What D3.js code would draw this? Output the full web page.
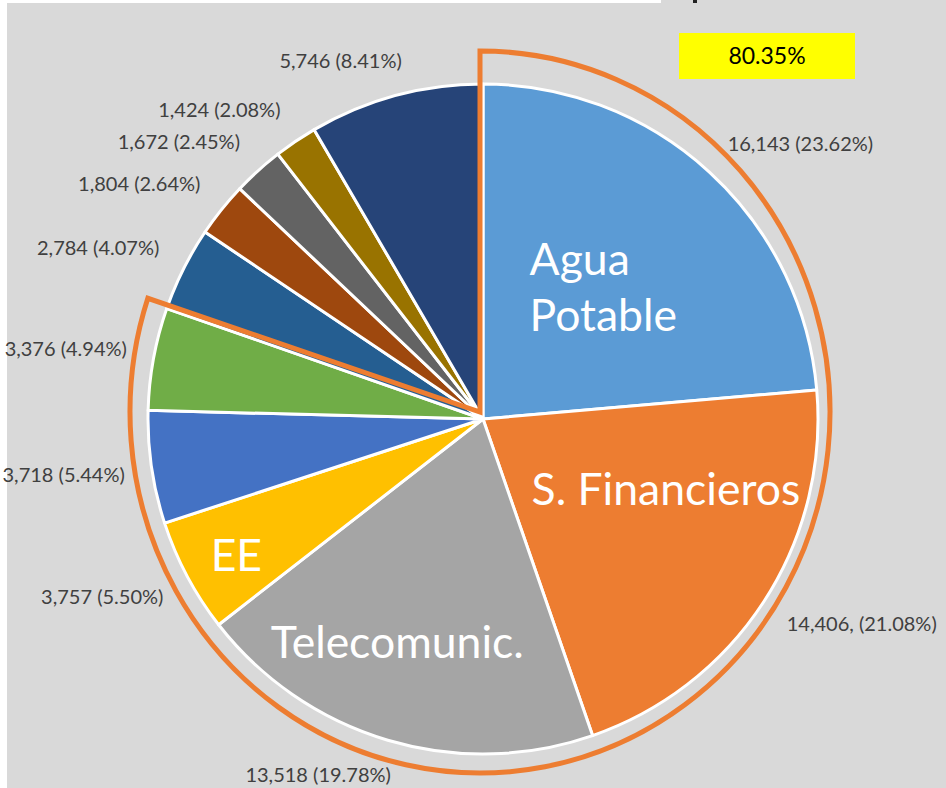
<!DOCTYPE html>
<html>
<head>
<meta charset="utf-8">
<script src="https://cdn.jsdelivr.net/npm/d3@7"></script>
<style>
  body { margin: 0; background: #fff; }
  svg { display: block; font-family: Lato, "Open Sans", sans-serif; }
</style>
</head>
<body>
<svg id="chart"></svg>
<script>
// data, clockwise from 12 o'clock
var categories = ["Agua Potable", "S. Financieros", "Telecomunic.", "EE", "Sector 5", "Sector 6",
                  "Sector 7", "Sector 8", "Sector 9", "Sector 10", "Otros"];
var values = [16143, 14406, 13518, 3757, 3718, 3376, 2784, 1804, 1672, 1424, 5746];
var colors = ["#5b9bd5", "#ed7d31", "#a5a5a5", "#ffc000", "#4472c4", "#70ad47",
              "#255e91", "#9e480e", "#636363", "#997300", "#264478"];
var sliceTitles = [["Agua", "Potable"], ["S. Financieros"], ["Telecomunic."], ["EE"], [], [], [], [], [], [], []];
var dataLabels = ["16,143 (23.62%)", "14,406, (21.08%)", "13,518 (19.78%)", "3,757 (5.50%)",
                  "3,718 (5.44%)", "3,376 (4.94%)", "2,784 (4.07%)", "1,804 (2.64%)",
                  "1,672 (2.45%)", "1,424 (2.08%)", "5,746 (8.41%)"];
var paretoCount = 6;   // first slices grouped by the orange outline

var width = 946, height = 788;
var cx = 483, cy = 419, radius = 335;
var labelR = 362;

// where the big in-slice titles sit (angle shift in degrees, radius)
var titleLayout = {
  "Agua Potable":   {da: 0,     r: 178},
  "S. Financieros": {da: -11.9, r: 196},
  "Telecomunic.":   {da: 4.5,   r: 239},
  "EE":             {da: -1,    r: 282}
};

var svg = d3.select("#chart").attr("width", width).attr("height", height);

// background like the pasted Excel picture
svg.append("rect").attr("x", 7).attr("y", 0).attr("width", width - 7).attr("height", height).attr("fill", "#d9d9d9");
svg.append("rect").attr("x", 0).attr("y", 0).attr("width", 661).attr("height", 3).attr("fill", "#fff");
svg.append("rect").attr("x", 693).attr("y", 0).attr("width", 4).attr("height", 3).attr("fill", "#222");

var pie = d3.pie().sort(null).value(function(d) { return d; });
var arcs = pie(values);
var arc = d3.arc().innerRadius(0).outerRadius(radius);

var pieG = svg.append("g").attr("transform", "translate(" + cx + "," + cy + ")");

pieG.selectAll("path.slice")
  .data(arcs)
  .enter()
  .append("path")
    .attr("class", "slice")
    .attr("d", arc)
    .attr("fill", function(d, i) { return colors[i]; })
    .attr("stroke", "#fff")
    .attr("stroke-width", 3)
    .attr("stroke-linejoin", "round");

// outside value labels
function clamp(v) { return Math.max(-1, Math.min(1, v)); }
var labelG = pieG.append("g");
arcs.forEach(function(d, i) {
  var a = (d.startAngle + d.endAngle) / 2;
  var dx = Math.sin(a), dy = -Math.cos(a);
  var t = labelG.append("text")
    .text(dataLabels[i])
    .attr("font-size", "20px")
    .attr("fill", "#404040")
    .attr("text-anchor", "middle");
  var w = t.node().getComputedTextLength();
  var h = 17;
  var px = labelR * dx + (w / 2) * clamp(3 * dx);
  var py = labelR * dy + (h / 2) * clamp(3 * dy);
  t.attr("x", px).attr("y", py).attr("dy", "0.35em");
});

// big titles inside slices
arcs.forEach(function(d, i) {
  var lines = sliceTitles[i];
  if (!lines.length) return;
  var lay = titleLayout[categories[i]];
  var a = (d.startAngle + d.endAngle) / 2 + lay.da * Math.PI / 180;
  var x = lay.r * Math.sin(a), y = -lay.r * Math.cos(a);
  var lh = 56;
  var t = pieG.append("text")
    .attr("font-size", "44.5px")
    .attr("fill", "#fff");
  lines.forEach(function(s, j) {
    t.append("tspan").text(s).attr("x", 0).attr("y", 0);
  });
  var maxW = 0;
  t.selectAll("tspan").each(function() { maxW = Math.max(maxW, this.getComputedTextLength()); });
  t.selectAll("tspan")
    .attr("x", x - maxW / 2)
    .attr("y", function(s, j) { return y + (j - (lines.length - 1) / 2) * lh; })
    .attr("dy", "0.35em");
});

// orange outline around the main slices (Pareto group)
var paretoEnd = arcs[paretoCount - 1].endAngle - 0.0157;
var ry = 361, rx = 350;
svg.append("g")
  .attr("transform", "translate(480,412) scale(" + (rx / ry) + ",1)")
  .append("path")
    .attr("d", d3.arc().innerRadius(0).outerRadius(ry).startAngle(0).endAngle(paretoEnd)())
    .attr("fill", "none")
    .attr("stroke", "#ed7d31")
    .attr("stroke-width", 5)
    .attr("stroke-linejoin", "miter")
    .attr("vector-effect", "non-scaling-stroke");

// share of the grouped slices
var share = d3.sum(values.slice(0, paretoCount)) / d3.sum(values);
var box = svg.append("g").attr("transform", "translate(679,33)");
box.append("rect").attr("width", 176).attr("height", 46).attr("fill", "#ffff00");
box.append("text")
  .attr("x", 88).attr("y", 23).attr("dy", "0.35em")
  .attr("text-anchor", "middle")
  .attr("font-size", "23px")
  .attr("fill", "#000")
  .text(d3.format(".2%")(share));
</script>
</body>
</html>
